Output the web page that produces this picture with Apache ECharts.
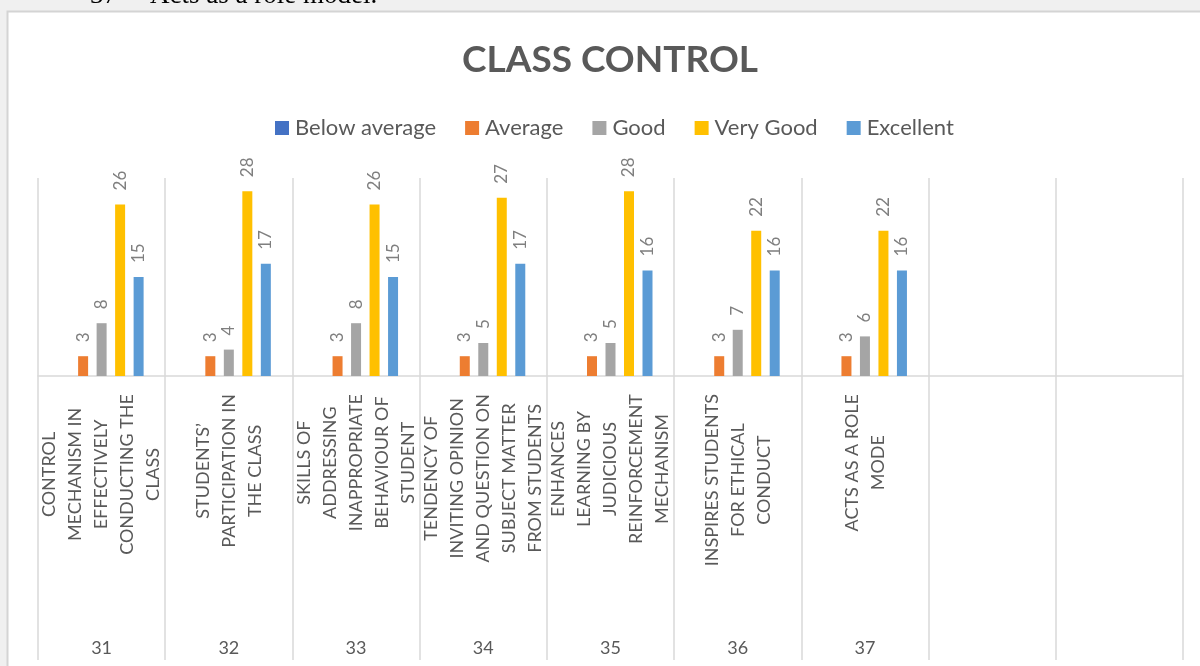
<!DOCTYPE html>
<html>
<head>
<meta charset="utf-8">
<style>
  html, body { margin: 0; padding: 0; background: #f0f0f0; }
  #chart { width: 1200px; height: 666px; }
</style>
<script src="https://cdn.jsdelivr.net/npm/echarts@6/dist/echarts.min.js"></script>
</head>
<body>
<div id="chart"></div>
<script>
// item names (line breaks as in the chart) and item numbers; last two slots are empty
const items = [
  'CONTROL\nMECHANISM IN\nEFFECTIVELY\nCONDUCTING THE\nCLASS',
  'STUDENTS’\nPARTICIPATION IN\nTHE CLASS',
  'SKILLS OF\nADDRESSING\nINAPPROPRIATE\nBEHAVIOUR OF\nSTUDENT',
  'TENDENCY OF\nINVITING OPINION\nAND QUESTION ON\nSUBJECT MATTER\nFROM STUDENTS',
  'ENHANCES\nLEARNING BY\nJUDICIOUS\nREINFORCEMENT\nMECHANISM',
  'INSPIRES STUDENTS\nFOR ETHICAL\nCONDUCT',
  'ACTS AS A ROLE\nMODE',
  '',
  ''
]
const itemNos = ['31', '32', '33', '34', '35', '36', '37', '', '']

const belowAverage = [0, 0, 0, 0, 0, 0, 0]
const average = [3, 3, 3, 3, 3, 3, 3]
const good = [8, 4, 8, 5, 5, 7, 6]
const veryGood = [26, 28, 26, 27, 28, 22, 22]
const excellent = [15, 17, 15, 17, 16, 16, 16]

const FONT = 'Lato, "Open Sans", sans-serif'
const GRID_COLOR = '#d9d9d9'

const chart = echarts.init(document.getElementById('chart'))

function barSeries(name, data, color, showLabel) {
  return {
    name,
    type: 'bar',
    data,
    barWidth: 10,
    barGap: '85%',
    itemStyle: { color },
    label: {
      show: showLabel,
      position: 'top',
      rotate: 90,
      align: 'left',
      verticalAlign: 'middle',
      distance: 14,
      color: '#7f7f7f',
      fontSize: 17,
      fontFamily: FONT,
    },
  }
}

chart.setOption({
  backgroundColor: '#f0f0f0',
  animation: false,
  graphic: [
    {
      type: 'rect',
      z: -10,
      shape: { x: 7.5, y: 11.5, width: 1300, height: 800 },
      style: { fill: '#fff', stroke: '#d4d4d4', lineWidth: 2 },
    },
    {
      type: 'text',
      z: -5,
      style: {
        x: 90, y: 9, text: '37', verticalAlign: 'bottom',
        font: '27px "Liberation Serif", serif', fill: '#000',
      },
    },
    {
      type: 'text',
      z: -5,
      style: {
        x: 150, y: 9, text: 'Acts as a role model.', verticalAlign: 'bottom',
        font: '27px "Liberation Serif", serif', fill: '#000',
      },
    },
  ],
  title: {
    text: 'CLASS CONTROL',
    left: 605,
    top: 37,
    textAlign: 'center',
    textStyle: { color: '#595959', fontSize: 37, fontWeight: 'bold', fontFamily: FONT },
  },
  legend: {
    left: 270,
    top: 112,
    icon: 'rect',
    itemWidth: 14,
    itemHeight: 14,
    itemGap: 29,
    textStyle: { color: '#595959', fontSize: 22, fontFamily: FONT, padding: [0, 0, 0, 1] },
  },
  grid: { left: 38, right: 17, top: 178, bottom: 290 },
  xAxis: [
    {
      type: 'category',
      data: items,
      axisLine: { lineStyle: { color: GRID_COLOR, width: 1.5 } },
      axisTick: { show: true, length: 284, interval: 0, lineStyle: { color: GRID_COLOR, width: 1.5 } },
      splitLine: { show: true, interval: 0, lineStyle: { color: GRID_COLOR, width: 1.5 } },
      axisLabel: {
        interval: 0,
        rotate: 90,
        margin: 18,
        formatter: v => v ? v.split('\n').map(s => '{c|' + s + '}').join('\n') : '',
        rich: {
          c: { align: 'center', color: '#595959', fontSize: 18, lineHeight: 26, fontFamily: FONT },
        },
      },
    },
    {
      type: 'category',
      data: itemNos,
      position: 'bottom',
      offset: 0,
      axisLine: { show: false },
      axisTick: { show: false },
      axisLabel: { interval: 0, margin: 263, color: '#595959', fontSize: 18, fontFamily: FONT },
    },
  ],
  yAxis: { type: 'value', min: 0, max: 30, show: false, splitLine: { show: false } },
  series: [
    barSeries('Below average', belowAverage, '#4472c4', false),
    barSeries('Average', average, '#ed7d31', true),
    barSeries('Good', good, '#a5a5a5', true),
    barSeries('Very Good', veryGood, '#ffc000', true),
    barSeries('Excellent', excellent, '#5b9bd5', true),
  ],
})
</script>
</body>
</html>
